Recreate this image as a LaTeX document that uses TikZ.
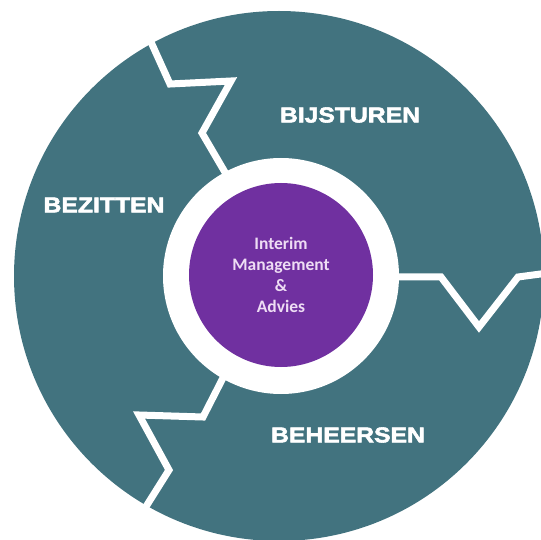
\documentclass[tikz,border=0pt]{standalone}
\usepackage{fontspec}
\usepackage{tikz}
\usetikzlibrary{calc, positioning}
\usepackage{xcolor}

\newfontfamily\phasefont{Liberation Sans}[FakeStretch=1.15, BoldFeatures={FakeBold=2.5}]
\newfontfamily\corefont{Carlito}

\definecolor{wheelteal}{HTML}{42737F}
\definecolor{corepurple}{HTML}{7030A0}
\definecolor{corelilac}{HTML}{EEDDF4}

\begin{document}
\begin{tikzpicture}[x=1pt, y=-1pt]
				\tikzstyle{wheel} = [circle, fill=wheelteal, draw=none, inner sep=0pt, minimum size=530pt]
				\tikzstyle{hub} = [circle, fill=white, draw=none, inner sep=0pt, minimum size=236pt]
				\tikzstyle{core} = [circle, fill=corepurple, draw=none, inner sep=0pt, minimum size=184pt,
					text=corelilac, align=center, font=\corefont\bfseries\fontsize{17.5}{21}\selectfont]
				\tikzstyle{phase} = [draw=none, text=white, inner sep=0pt, font=\phasefont\bfseries\fontsize{21.5}{22}\selectfont]
				\tikzstyle{gap} = [draw=white, line width=7pt, miter limit=20]
				
				\useasboundingbox (0,0) rectangle (541,540);
				
				\node[wheel] 			at (279, 276) 		(wheel) 	{};
				
				\draw[gap] (146,31) -- (170,84) -- (231,81) -- (202,133) -- (226,174);
				\draw[gap] (395,277) -- (441,277) -- (479,327) -- (518,277) -- (548,273);
				\draw[gap] (226,372) -- (203,417) -- (139,415) -- (169,470) -- (147,505) -- (140,517);
				
				\node[hub] 				at (281, 276) 		(hub) 		{};
				\node[core] 			at (281, 275) 		(core) 		{Interim\\Management\\\&\\Advies};
				
				\node[phase] 			at (350, 115) 		(bijsturen) 	{BIJSTUREN};
				\node[phase] 			at (104, 205) 		(bezitten) 	{BEZITTEN};
				\node[phase] 			at (348, 435) 		(beheersen) 	{BEHEERSEN};
			\end{tikzpicture}
\end{document}
